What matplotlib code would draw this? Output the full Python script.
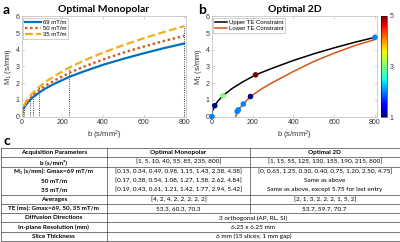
import numpy as np
import matplotlib
matplotlib.use('Agg')
import matplotlib.pyplot as plt

plt.rcParams['font.family'] = ['Liberation Sans', 'DejaVu Sans']
plt.rcParams['mathtext.fontset'] = 'custom'
plt.rcParams['mathtext.rm'] = 'Liberation Sans'
plt.rcParams['mathtext.it'] = 'Liberation Sans'

# panel a: M1 vs b for three gradient strengths
b_mono = [0, 1, 5, 10, 20, 40, 55, 85, 120, 160, 235, 300, 400, 500, 600, 700, 800]
m1_69 = [0, 0.15, 0.34, 0.49, 0.69, 0.98, 1.15, 1.43, 1.70, 1.96, 2.38, 2.68, 3.10, 3.46, 3.79, 4.10, 4.38]
m1_50 = [0, 0.17, 0.38, 0.54, 0.77, 1.08, 1.27, 1.58, 1.87, 2.16, 2.62, 2.96, 3.42, 3.83, 4.19, 4.53, 4.84]
m1_35 = [0, 0.19, 0.43, 0.61, 0.86, 1.21, 1.42, 1.77, 2.10, 2.42, 2.94, 3.32, 3.83, 4.28, 4.69, 5.07, 5.42]
b_sel = [1, 5, 10, 40, 55, 85, 235, 800]
m1_sel = [0.19, 0.43, 0.61, 1.21, 1.42, 1.77, 2.94, 5.42]

# panel b: TE constraint curves and the chosen points
b_up = [0, 1, 5, 15, 30, 55, 100, 150, 215, 300, 400, 500, 600, 700, 800]
m1_up = [0, 0.17, 0.38, 0.65, 0.92, 1.25, 1.68, 2.06, 2.50, 2.91, 3.36, 3.76, 4.12, 4.45, 4.75]
b_lo = [118, 121, 125, 130, 155, 190, 250, 300, 400, 500, 600, 700, 800]
m1_lo = [0, 0.15, 0.30, 0.40, 0.75, 1.20, 1.70, 2.05, 2.70, 3.30, 3.80, 4.25, 4.62]
b_2d = [1, 15, 55, 125, 130, 155, 190, 215, 800]
m1_2d = [0, 0.65, 1.25, 0.30, 0.40, 0.75, 1.20, 2.50, 4.75]
avg_2d = [2, 1, 3, 2, 2, 2, 1, 5, 2]

col_names = ['Acquisition Parameters', 'Optimal Monopolar', 'Optimal 2D']
row_names = ['b (s/mm²)', 'M₁ (s/mm): Gmax=69 mT/m', '50 mT/m', '35 mT/m', 'Averages',
             'TE (ms): Gmax=69, 50, 35 mT/m', 'Diffusion Directions',
             'In-plane Resolution (mm)', 'Slice Thickness']
mono_txt = ['[1, 5, 10, 40, 55, 85, 235, 800]',
            '[0.15, 0.34, 0.49, 0.98, 1.15, 1.43, 2.38, 4.38]',
            '[0.17, 0.38, 0.54, 1.08, 1.27, 1.58, 2.62, 4.84]',
            '[0.19, 0.43, 0.61, 1.21, 1.42, 1.77, 2.94, 5.42]',
            '[4, 2, 4, 2, 2, 2, 2, 2]',
            '53.3, 60.3, 70.3']
twod_txt = ['[1, 15, 55, 125, 130, 155, 190, 215, 800]',
            '[0, 0.65, 1.25, 0.30, 0.40, 0.75, 1.20, 2.50, 4.75]',
            'Same as above',
            'Same as above, except 5.75 for last entry',
            '[2, 1, 3, 2, 2, 2, 1, 5, 2]',
            '53.7, 59.7, 70.7']
shared_txt = ['3 orthogonal (AP, RL, SI)', '6.25 x 6.25 mm', '6 mm (15 slices; 1 mm gap)']

W, H = 400, 242
fig = plt.figure(figsize=(4, 2.42), dpi=100)

def style(ax):
    ax.set_xlim(0, 810)
    ax.set_ylim(0, 6)
    ax.set_xticks([0, 200, 400, 600, 800])
    ax.set_yticks(range(7))
    ax.tick_params(direction='in', length=2, width=0.4, labelsize=5, colors='#bbbbbb',
                   labelcolor='#333333', pad=1.5, top=True, right=True)
    for s in ax.spines.values():
        s.set_color('#bbbbbb')
        s.set_linewidth(0.5)
    ax.set_xlabel('b (s/mm$^2$)', fontsize=5.5, color='#333333', labelpad=2)
    ax.set_ylabel('M$_1$ (s/mm)', fontsize=5.5, color='#333333', labelpad=1)

ax1 = fig.add_axes([21.7 / W, 1 - 116.5 / H, 164.5 / W, 100 / H])
for b, m in zip(b_sel, m1_sel):
    ax1.plot([b, b], [0, m], ls=':', color='k', lw=0.6)
ax1.plot(b_mono, m1_69, color='#0072BD', lw=1.6, label='69 mT/m')
ax1.plot(b_mono, m1_50, color='#D95319', lw=1.7, ls=(0, (1, 1.2)), label='50 mT/m')
ax1.plot(b_mono, m1_35, color='#EDB120', lw=1.6, ls=(0, (3.5, 1.5)), label='35 mT/m')
style(ax1)
ax1.set_title('Optimal Monopolar', fontsize=7.5, fontweight='bold', family='Lato', pad=3)
leg = ax1.legend(loc='upper left', fontsize=4.3, handlelength=2.6, borderpad=0.3,
                 labelspacing=0.15, handletextpad=0.3, borderaxespad=0.3, fancybox=False)
leg.get_frame().set_linewidth(0.4)
leg.get_frame().set_edgecolor('#999999')

ax2 = fig.add_axes([211.7 / W, 1 - 116.5 / H, 165.3 / W, 100 / H])
ax2.plot(b_up, m1_up, color='k', lw=1.1, label='Upper TE Constraint')
ax2.plot(b_lo, m1_lo, color='#D95319', lw=1.1, label='Lower TE Constraint')
sc = ax2.scatter(b_2d, m1_2d, c=avg_2d, cmap='jet', vmin=1, vmax=5, s=16, zorder=3,
                 clip_on=False, linewidths=0)
style(ax2)
ax2.set_title('Optimal 2D', fontsize=7.5, fontweight='bold', family='Lato', pad=3)
leg = ax2.legend(loc='upper left', fontsize=4.3, handlelength=2.0, borderpad=0.3,
                 labelspacing=0.15, handletextpad=0.3, borderaxespad=0.3, fancybox=False)
leg.get_frame().set_linewidth(0.4)
leg.get_frame().set_edgecolor('#999999')

cax = fig.add_axes([381 / W, 1 - 117 / H, 6 / W, 101 / H])
cb = fig.colorbar(sc, cax=cax, ticks=[1, 3, 5])
cb.outline.set_linewidth(0.4)
cax.tick_params(labelsize=5, length=0, pad=2, labelcolor='#333333')

fig.text(3 / W, 1 - 10 / H, 'a', fontsize=10, fontweight='bold', family='Lato', va='center')
fig.text(198 / W, 1 - 10 / H, 'b', fontsize=10, fontweight='bold', family='Lato', va='center')
fig.text(3 / W, 1 - 141 / H, 'c', fontsize=10, fontweight='bold', family='Lato', va='center')

# table
axt = fig.add_axes([0, 1 / H, 1, 93 / H])
axt.set_xlim(0, W)
axt.set_ylim(10, 0)
axt.axis('off')
x0, x1, x2, x3 = 0.5, 107, 250, 399.5
lc = '#444444'
lw = 0.5
tfam = ['Lato', 'DejaVu Sans']
fs = 4.6
for y in [0, 1, 2, 5, 6, 7, 8, 9, 10]:
    axt.plot([x0, x3], [y, y], color=lc, lw=lw, clip_on=False)
for x in [x0, x1, x3]:
    axt.plot([x, x], [0, 10], color=lc, lw=lw, clip_on=False)
axt.plot([x2, x2], [0, 7], color=lc, lw=lw, clip_on=False)

cx_l, cx_m, cx_r, cx_s = (x0 + x1) / 2, (x1 + x2) / 2, (x2 + x3) / 2, (x1 + x3) / 2
axt.text(cx_l, 0.5, col_names[0], ha='center', va='center', fontsize=fs, fontweight='bold', family=tfam)
axt.text(cx_m, 0.5, col_names[1], ha='center', va='center', fontsize=fs, fontweight='bold', family=tfam)
axt.text(cx_r, 0.5, col_names[2], ha='center', va='center', fontsize=fs, fontweight='bold', family=tfam)
for i, name in enumerate(row_names):
    axt.text(cx_l, i + 1.5, name, ha='center', va='center', fontsize=fs, fontweight='bold', family=tfam)
for i, t in enumerate(mono_txt):
    axt.text(cx_m, i + 1.5, t, ha='center', va='center', fontsize=fs, family=tfam)
for i, t in enumerate(twod_txt):
    axt.text(cx_r, i + 1.5, t, ha='center', va='center', fontsize=fs, family=tfam)
for i, t in enumerate(shared_txt):
    axt.text(cx_s, i + 7.5, t, ha='center', va='center', fontsize=fs, family=tfam)

fig.savefig('out.png', dpi=100)
